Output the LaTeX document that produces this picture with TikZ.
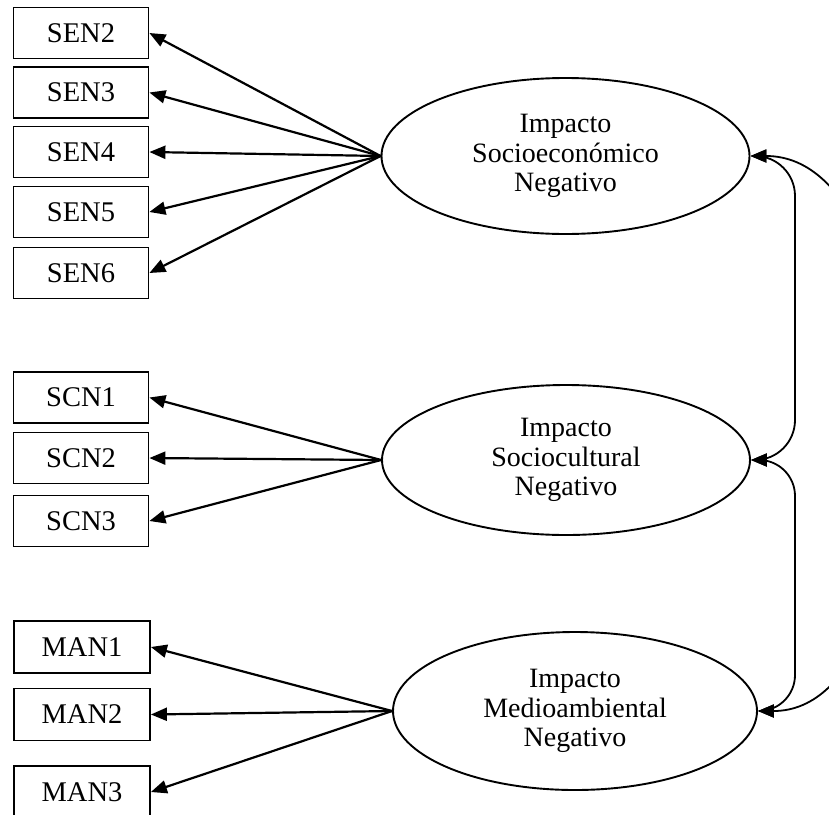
\documentclass[tikz,border=0pt]{standalone}
\usepackage{fontspec}
\setmainfont{Liberation Serif}
\usetikzlibrary{arrows.meta,shapes.geometric}

\begin{document}
\begin{tikzpicture}[x=1pt,y=-1pt,
  item/.style={draw, line width=1.8pt, minimum width=135pt, minimum height=51pt,
    inner sep=0pt, font=\fontsize{28.5}{30}\selectfont},
  factor/.style={draw, ellipse, line width=1.9pt, minimum width=368pt,
    minimum height=156pt, inner sep=0pt, align=center,
    font=\fontsize{28}{29.5}\selectfont},
  load/.style={line width=2.2pt, -{Triangle[length=16pt,width=13pt]}},
  cov/.style={line width=1.8pt,
    {Triangle[length=16pt,width=13pt]}-{Triangle[length=16pt,width=13pt]}}
]
\clip (0,0) rectangle (829,814);

% observed indicators
\node[item] (sen2) at (81,33)   {SEN2};
\node[item] (sen3) at (81,92.5) {SEN3};
\node[item] (sen4) at (81,152)  {SEN4};
\node[item] (sen5) at (81,212)  {SEN5};
\node[item] (sen6) at (81,273)  {SEN6};

\node[item] (scn1) at (81,397.5) {SCN1};
\node[item] (scn2) at (81,458)   {SCN2};
\node[item] (scn3) at (81,521)   {SCN3};

\node[item, minimum width=136pt, minimum height=52pt] (man1) at (82,647)   {MAN1};
\node[item, minimum width=136pt, minimum height=52pt] (man2) at (82,714.5) {MAN2};
\node[item, minimum width=136pt, minimum height=52pt] (man3) at (82,792)   {MAN3};

% latent factors
\node[factor] (sen) at (565.5,156) {Impacto\\Socioeconómico\\Negativo};
\node[factor, minimum height=150pt] (scn) at (566,460) {Impacto\\Sociocultural\\Negativo};
\node[factor, minimum width=364pt, minimum height=158pt] (man) at (575,711) {Impacto\\Medioambiental\\Negativo};

% factor loadings
\foreach \b in {sen2,sen3,sen4,sen5,sen6}
  \draw[load] (sen.west) -- (\b.east);
\foreach \b in {scn1,scn2,scn3}
  \draw[load] (scn.west) -- (\b.east);
\foreach \b in {man1,man2,man3}
  \draw[load] (man.west) -- (\b.east);

% covariances
\coordinate (rail) at (795,0);
\draw[cov, rounded corners=40pt] (sen.east) -- (sen.east -| rail) -- (scn.east -| rail) -- (scn.east);
\draw[cov, rounded corners=36pt] (scn.east) -- (scn.east -| rail) -- (man.east -| rail) -- (man.east);
\draw[cov] (sen.east) .. controls +(190,0) and +(185,0) .. (man.east);
\end{tikzpicture}
\end{document}
